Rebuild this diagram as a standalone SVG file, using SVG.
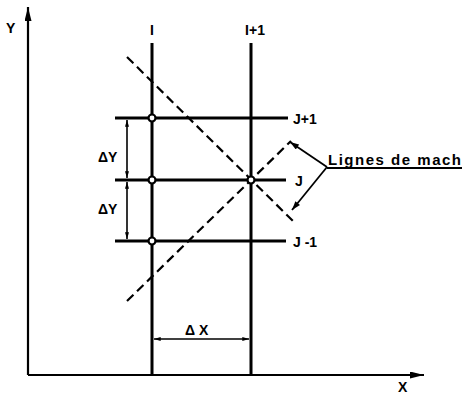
<svg xmlns="http://www.w3.org/2000/svg" width="462" height="394" viewBox="0 0 462 394">
<style>
text{font-family:"Liberation Sans",Arial,sans-serif;font-weight:bold;font-size:14px;fill:#000}
.big{font-size:15px}
.axis{stroke:#000;stroke-width:2.2;fill:none}
.grid{stroke:#000;stroke-width:3;fill:none}
.dim{stroke:#000;stroke-width:1.6;fill:none}
.dash{stroke:#000;stroke-width:2.2;stroke-dasharray:9 5;fill:none}
.lead{stroke:#000;stroke-width:1.8;fill:none}
.node{fill:#fff;stroke:#000;stroke-width:2.2}
</style>
<defs>
<marker id="axb" viewBox="0 0 16 8" refX="16" refY="4" markerWidth="16" markerHeight="7" orient="auto" markerUnits="userSpaceOnUse"><path d="M0,0 L16,4 L0,8 z" fill="#000"/></marker>
<marker id="sm" viewBox="0 0 10 6" refX="10" refY="3" markerWidth="7" markerHeight="4" orient="auto" markerUnits="userSpaceOnUse"><path d="M0,0 L10,3 L0,6 z" fill="#000"/></marker>
<marker id="ld" viewBox="0 0 12 8" refX="12" refY="4" markerWidth="10" markerHeight="6" orient="auto" markerUnits="userSpaceOnUse"><path d="M0,0 L12,4 L0,8 z" fill="#000"/></marker>
</defs>
<g id="axes">
<line class="axis" x1="28" y1="375" x2="28" y2="7" marker-end="url(#axb)"/>
<line class="axis" x1="28" y1="375" x2="424" y2="375" marker-end="url(#axb)"/>
<text x="6" y="33">Y</text>
<text x="398" y="392">X</text>
</g>
<g id="grid">
<line class="grid" x1="152" y1="43" x2="152" y2="375"/>
<line class="grid" x1="251" y1="43" x2="251" y2="375"/>
<line class="grid" x1="115" y1="118" x2="288" y2="118"/>
<line class="grid" x1="115" y1="180" x2="286" y2="180"/>
<line class="grid" x1="115" y1="241" x2="286" y2="241"/>
<text x="152" y="35" text-anchor="middle">I</text>
<text x="255" y="35" text-anchor="middle">I+1</text>
<text x="293" y="124">J+1</text>
<text x="295" y="186">J</text>
<text x="293" y="247">J -1</text>
</g>
<g id="connectors">
<line class="dash" x1="127" y1="57" x2="294" y2="222"/>
<line class="dash" x1="127" y1="301" x2="291" y2="141"/>
<line class="dim" x1="127" y1="149" x2="127" y2="120" marker-end="url(#sm)"/>
<line class="dim" x1="127" y1="149" x2="127" y2="178" marker-end="url(#sm)"/>
<line class="dim" x1="127" y1="211" x2="127" y2="182" marker-end="url(#sm)"/>
<line class="dim" x1="127" y1="211" x2="127" y2="239" marker-end="url(#sm)"/>
<line class="dim" x1="200" y1="339" x2="154" y2="339" marker-end="url(#sm)"/>
<line class="dim" x1="200" y1="339" x2="249" y2="339" marker-end="url(#sm)"/>
<line class="lead" x1="327" y1="167" x2="290" y2="142" marker-end="url(#ld)"/>
<line class="lead" x1="327" y1="167" x2="292" y2="210" marker-end="url(#ld)"/>
<line class="lead" x1="327" y1="168" x2="462" y2="168"/>
</g>
<g id="nodes">
<circle id="n-i-jp1" class="node" cx="152" cy="118" r="3.5"/>
<circle id="n-i-j" class="node" cx="152" cy="180" r="3.5"/>
<circle id="n-i-jm1" class="node" cx="152" cy="241" r="3.5"/>
<circle id="n-ip1-j" class="node" cx="251" cy="180" r="3.5"/>
</g>
<g id="labels">
<text x="98" y="162">ΔY</text>
<text x="98" y="214">ΔY</text>
<text x="185" y="335">Δ X</text>
<text class="big" x="328" y="165" textLength="133" lengthAdjust="spacing">Lignes de mach</text>
</g>
</svg>
